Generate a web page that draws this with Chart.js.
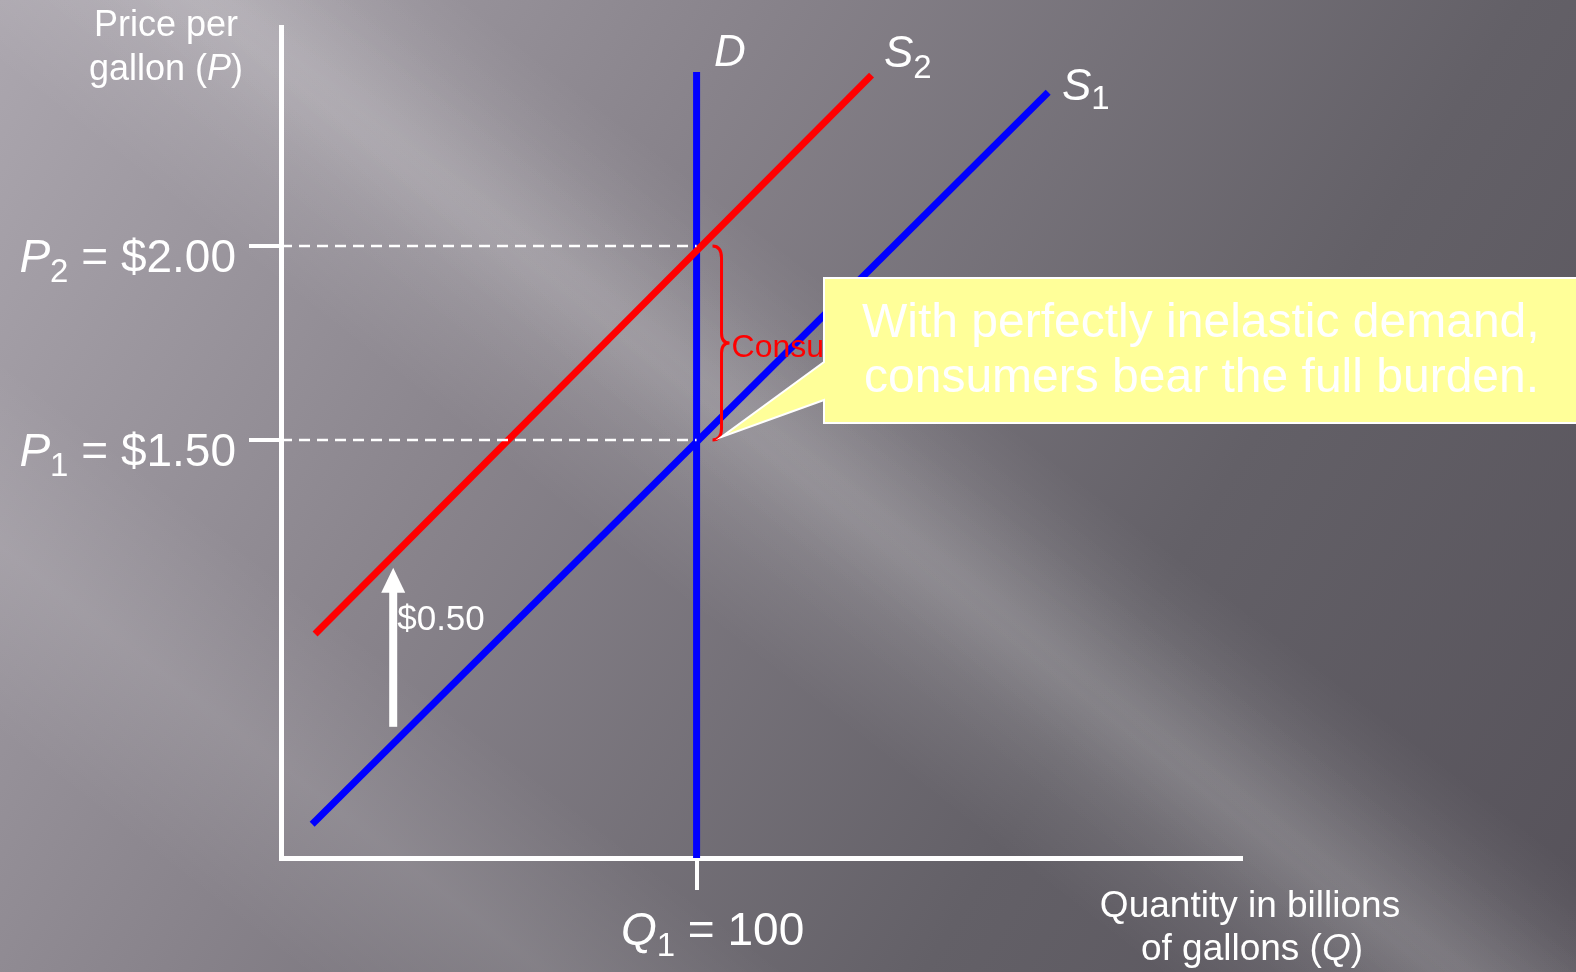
<!DOCTYPE html>
<html>
<head>
<meta charset="utf-8">
<script src="https://cdn.jsdelivr.net/npm/chart.js@4.4.1/dist/chart.umd.min.js"></script>
<style>
	html, body { margin: 0; padding: 0; background: #6e6a72; overflow: hidden; }
	#wrapper-tax-chart { width: 1576px; height: 972px; position: relative; }
</style>
</head>
<body>
<div id="wrapper-tax-chart"><canvas id="tax-chart"></canvas></div>
<script>
// axis ranges: quantity (billions of gallons) and price ($ per gallon)
const qRange = [0, 231];
const pRange = [0.423, 2.564];

const qTicks = [100];
const pTicks = [1.5, 2.0];

// curves, end points
const supply1 = [{ x: 7.5, y: 0.51 }, { x: 184.6, y: 2.396 }];
const supply2 = [{ x: 8.2, y: 1.0 }, { x: 142.1, y: 2.44 }];
const demand = [{ x: 100, y: 0.423 }, { x: 100, y: 2.448 }];
const priceP2 = [{ x: 0, y: 2.0 }, { x: 100, y: 2.0 }];
const priceP1 = [{ x: 0, y: 1.5 }, { x: 100, y: 1.5 }];

// the $0.50 tax arrow and the brace for the consumers' share
const taxArrow = { q: 27, from: 0.761, to: 1.171 };
const consumerBrace = { q: 106, from: 1.5, to: 2.0 };

const FONT = '"Liberation Sans", Arial, sans-serif';

function font(size, italic) {
	return (italic ? "italic " : "") + size + "px " + FONT;
}

// text built from runs, so that P2, S1, Q1 get real subscripts
function richText(ctx, runs, x, y, align) {
	let total = 0;
	runs.forEach((r) => {
		ctx.font = font(r.size, r.italic);
		r.w = ctx.measureText(r.text).width;
		total += r.w;
	});
	let cx = x;
	if (align === "right") cx = x - total;
	else if (align === "center") cx = x - total / 2;
	runs.forEach((r) => {
		ctx.font = font(r.size, r.italic);
		ctx.fillText(r.text, cx, y + (r.dy || 0));
		cx += r.w;
	});
}

const background = {
	id: "background",
	beforeDraw(chart) {
		const { ctx, width, height } = chart;
		ctx.save();
		let g = ctx.createLinearGradient(0, 0, width, height);
		g.addColorStop(0, "#aca7af");
		g.addColorStop(0.35, "#88838b");
		g.addColorStop(0.7, "#636067");
		g.addColorStop(1, "#56525a");
		ctx.fillStyle = g;
		ctx.fillRect(0, 0, width, height);

		// soft light streaks running down to the right
		const streaks = [
			{ cx: 600, cy: 320, w: 170, a: 0.15 },
			{ cx: 1050, cy: 650, w: 120, a: 0.05 },
			{ cx: 120, cy: 640, w: 150, a: 0.1 },
			{ cx: 380, cy: 120, w: 80, a: 0.05 },
		];
		const ang = (38 * Math.PI) / 180;
		const nx = -Math.sin(ang), ny = Math.cos(ang);
		streaks.forEach((s) => {
			let sg = ctx.createLinearGradient(
				s.cx - nx * s.w, s.cy - ny * s.w,
				s.cx + nx * s.w, s.cy + ny * s.w
			);
			sg.addColorStop(0, "rgba(255,255,255,0)");
			sg.addColorStop(0.5, "rgba(255,255,255," + s.a + ")");
			sg.addColorStop(1, "rgba(255,255,255,0)");
			ctx.fillStyle = sg;
			ctx.fillRect(0, 0, width, height);
		});
		ctx.restore();
	},
};

const annotations = {
	id: "annotations",
	afterDraw(chart) {
		const { ctx } = chart;
		const xs = chart.scales.x, ys = chart.scales.y;
		const px = (v) => xs.getPixelForValue(v);
		const py = (v) => ys.getPixelForValue(v);
		ctx.save();
		ctx.textBaseline = "alphabetic";
		ctx.fillStyle = "#ffffff";

		// axis titles
		richText(ctx, [{ text: "Price per", size: 36 }], 166, 36, "center");
		richText(ctx, [
			{ text: "gallon (", size: 36 },
			{ text: "P", size: 36, italic: true },
			{ text: ")", size: 36 },
		], 166, 80, "center");
		richText(ctx, [{ text: "Quantity in billions", size: 37 }], 1250, 917, "center");
		richText(ctx, [
			{ text: "of gallons (", size: 37 },
			{ text: "Q", size: 37, italic: true },
			{ text: ")", size: 37 },
		], 1252, 960, "center");

		// tick labels
		richText(ctx, [
			{ text: "P", size: 46, italic: true },
			{ text: "2", size: 33, dy: 10 },
			{ text: " = $2.00", size: 46 },
		], 236, py(pTicks[1]) + 26, "right");
		richText(ctx, [
			{ text: "P", size: 46, italic: true },
			{ text: "1", size: 33, dy: 10 },
			{ text: " = $1.50", size: 46 },
		], 236, py(pTicks[0]) + 26, "right");
		richText(ctx, [
			{ text: "Q", size: 46, italic: true },
			{ text: "1", size: 33, dy: 11 },
			{ text: " = 100", size: 46 },
		], px(qTicks[0]) + 16, 945, "center");

		// curve names
		richText(ctx, [{ text: "D", size: 44, italic: true }], 714, 66, "left");
		richText(ctx, [
			{ text: "S", size: 44, italic: true },
			{ text: "2", size: 33, dy: 11 },
		], 884, 67, "left");
		richText(ctx, [
			{ text: "S", size: 44, italic: true },
			{ text: "1", size: 33, dy: 9 },
		], 1062, 100, "left");

		// tax arrow
		let ax = px(taxArrow.q), ay0 = py(taxArrow.from), ay1 = py(taxArrow.to);
		ctx.fillRect(ax - 4, ay1 + 22, 8, ay0 - ay1 - 22);
		ctx.beginPath();
		ctx.moveTo(ax, ay1);
		ctx.lineTo(ax + 12, ay1 + 25);
		ctx.lineTo(ax - 12, ay1 + 25);
		ctx.closePath();
		ctx.fill();
		richText(ctx, [{ text: "$0.50", size: 35 }], ax + 4, 630, "left");

		// consumers' brace
		let bx = px(consumerBrace.q);
		let by1 = py(consumerBrace.to), by2 = py(consumerBrace.from);
		let bm = (by1 + by2) / 2;
		ctx.strokeStyle = "#ff0000";
		ctx.lineWidth = 3;
		ctx.beginPath();
		ctx.moveTo(bx - 9, by1);
		ctx.quadraticCurveTo(bx, by1, bx, by1 + 12);
		ctx.lineTo(bx, bm - 10);
		ctx.quadraticCurveTo(bx, bm, bx + 8, bm);
		ctx.quadraticCurveTo(bx, bm, bx, bm + 10);
		ctx.lineTo(bx, by2 - 12);
		ctx.quadraticCurveTo(bx, by2, bx - 9, by2);
		ctx.stroke();
		ctx.fillStyle = "#ff0000";
		richText(ctx, [{ text: "Consumers", size: 32 }], bx + 10, bm + 14, "left");

		// callout
		ctx.fillStyle = "#ffff99";
		ctx.strokeStyle = "#ffffff";
		ctx.lineWidth = 2;
		ctx.beginPath();
		ctx.moveTo(824, 278);
		ctx.lineTo(1590, 278);
		ctx.lineTo(1590, 423);
		ctx.lineTo(824, 423);
		ctx.lineTo(824, 400);
		ctx.lineTo(bx, by2 - 3);
		ctx.lineTo(824, 362);
		ctx.closePath();
		ctx.fill();
		ctx.stroke();
		ctx.fillStyle = "#ffffff";
		richText(ctx, [{ text: "With perfectly inelastic demand,", size: 48 }], 862, 337, "left");
		richText(ctx, [{ text: "consumers bear the full burden.", size: 48 }], 864, 392, "left");

		ctx.restore();
	},
};

const lineSet = (label, data, color, width, dash) => ({
	label: label,
	data: data,
	borderColor: color,
	backgroundColor: color,
	borderWidth: width,
	borderDash: dash || [],
	borderCapStyle: "butt",
	pointRadius: 0,
	fill: false,
});

const axisOpts = (range, ticks) => ({
	type: "linear",
	min: range[0],
	max: range[1],
	z: 1,
	afterBuildTicks: (scale) => {
		scale.ticks = ticks.map((v) => ({ value: v }));
	},
	ticks: { display: false },
	grid: {
		drawOnChartArea: false,
		drawTicks: true,
		tickLength: 32,
		color: "#ffffff",
		lineWidth: 4,
	},
	border: { display: true, color: "#ffffff", width: 5 },
});

new Chart(document.getElementById("tax-chart").getContext("2d"), {
	type: "line",
	data: {
		datasets: [
			lineSet("P2", priceP2, "#ffffff", 2.5, [11, 7]),
			lineSet("P1", priceP1, "#ffffff", 2.5, [11, 7]),
			lineSet("S1", supply1, "#0000ff", 7),
			lineSet("S2", supply2, "#ff0000", 7),
			lineSet("D", demand, "#0000ff", 7),
		],
	},
	options: {
		responsive: true,
		maintainAspectRatio: false,
		animation: false,
		layout: { padding: { left: 249, right: 335, top: 27, bottom: 82 } },
		scales: {
			x: axisOpts(qRange, qTicks),
			y: axisOpts(pRange, pTicks),
		},
		plugins: {
			legend: { display: false },
			tooltip: { enabled: false },
		},
	},
	plugins: [background, annotations],
});
</script>
</body>
</html>
